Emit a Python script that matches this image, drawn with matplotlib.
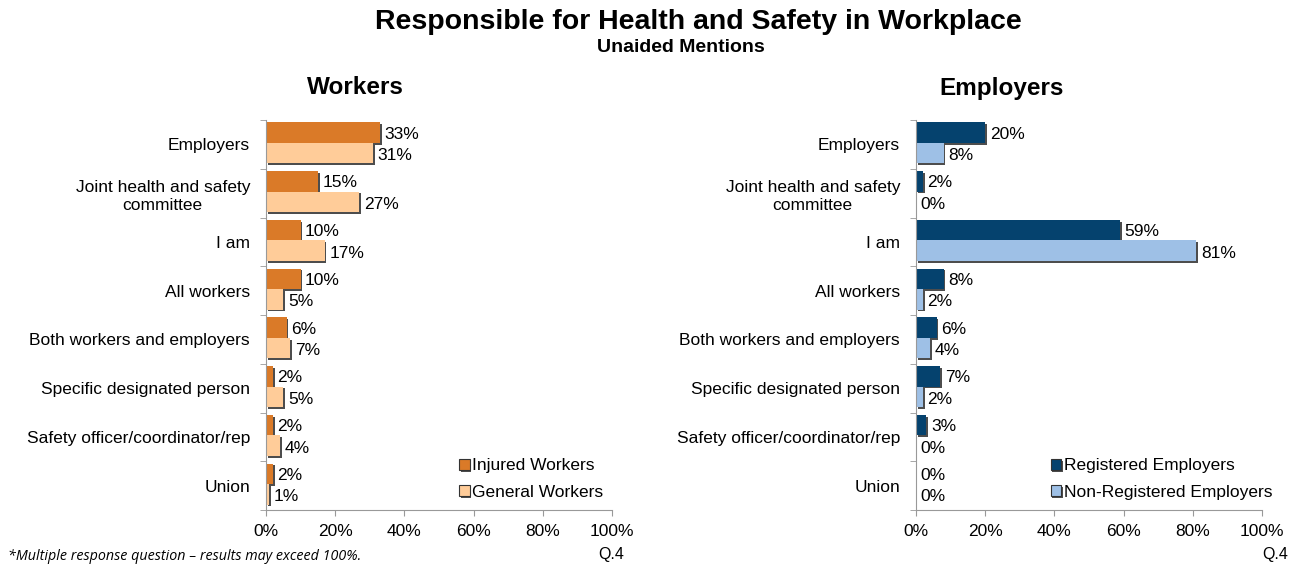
import numpy as np
import matplotlib.pyplot as plt
import matplotlib.patheffects as pe
from matplotlib.ticker import FuncFormatter

plt.rcParams['font.family'] = ['Liberation Sans', 'DejaVu Sans']

# ---- data --------------------------------------------------------------------
categories = [
    "Employers", "Joint health and safety\ncommittee", "I am", "All workers",
    "Both workers and employers", "Specific designated person",
    "Safety officer/coordinator/rep", "Union",
]
injured_workers = [33, 15, 10, 10, 6, 2, 2, 2]
general_workers = [31, 27, 17, 5, 7, 5, 4, 1]
registered_emp = [20, 2, 59, 8, 6, 7, 3, 0]
nonregistered_emp = [8, 0, 81, 2, 4, 2, 0, 0]

xticks = [0, 20, 40, 60, 80, 100]

W, H = 1297, 565
fig = plt.figure(figsize=(W / 100, H / 100), dpi=100)

shadow = [pe.SimplePatchShadow(offset=(1.2, -1.2), shadow_rgbFace='#3a3a3a', alpha=0.9),
          pe.Normal()]


def panel(left_px, top_vals, bot_vals, c_top, c_bot, names, legend_x):
    ax = fig.add_axes([left_px / W, 1 - 510 / H, 346 / W, 390 / H])
    y = np.arange(len(categories))
    h = 0.42
    b1 = ax.barh(y - 0.24, top_vals, height=h, color=c_top, label=names[0])
    b2 = ax.barh(y + 0.18, bot_vals, height=h, color=c_bot, label=names[1])
    for bars in (b1, b2):
        for p in bars:
            if p.get_width() > 0:
                p.set_path_effects(shadow)
    for yi, v in zip(y - 0.24, top_vals):
        ax.text(v + 1.3, yi + 0.03, f"{v}%", va='center', ha='left', fontsize=12.5)
    for yi, v in zip(y + 0.18, bot_vals):
        ax.text(v + 1.3, yi + 0.05, f"{v}%", va='center', ha='left', fontsize=12.5)
    ax.set_xlim(0, 100)
    ax.set_ylim(len(categories) - 0.5, -0.5)
    ax.set_yticks(y)
    ax.set_yticklabels(categories, fontsize=12.5, linespacing=1.3, multialignment='center')
    ax.tick_params(axis='y', length=0, pad=11.5)
    ax.set_yticks(np.arange(-0.5, len(categories), 1), minor=True)
    ax.tick_params(axis='y', which='minor', length=4, color='#999999')
    ax.set_xticks(xticks)
    ax.xaxis.set_major_formatter(FuncFormatter(lambda v, _: f"{v:.0f}%"))
    ax.tick_params(axis='x', length=4, color='#999999', labelsize=12.5, pad=6)
    for s in ('top', 'right'):
        ax.spines[s].set_visible(False)
    for s in ('left', 'bottom'):
        ax.spines[s].set_color('#999999')
    leg = ax.legend(loc='lower right', bbox_to_anchor=(legend_x, 0.004), frameon=False,
                    fontsize=12.5, handlelength=0.6, handleheight=0.6, handletextpad=0.15,
                    labelspacing=0.65, borderaxespad=0.1)
    for hnd in leg.legend_handles:
        hnd.set_edgecolor('#333333')
        hnd.set_linewidth(0.8)
    return ax


panel(266, injured_workers, general_workers, '#DA7A28', '#FFCC99',
      ["Injured Workers", "General Workers"], 1.0)
panel(916, registered_emp, nonregistered_emp, '#05426E', '#9EC0E6',
      ["Registered Employers", "Non-Registered Employers"], 1.055)

fig.text(698 / W, 1 - 22 / H, "Responsible for Health and Safety in Workplace",
         ha='center', va='center', fontsize=20.5, fontweight='bold')
fig.text(681 / W, 1 - 48 / H, "Unaided Mentions", ha='center', va='center',
         fontsize=14, fontweight='bold')
fig.text(355 / W, 1 - 88 / H, "Workers", ha='center', va='center',
         fontsize=17.5, fontweight='bold')
fig.text(1002 / W, 1 - 88 / H, "Employers", ha='center', va='center',
         fontsize=17.5, fontweight='bold')
fig.text(8 / W, 1 - 557 / H, "*Multiple response question – results may exceed 100%.",
         ha='left', va='center', fontsize=10.3, style='italic', family=['Open Sans', 'DejaVu Sans'])
fig.text(611 / W, 1 - 555 / H, "Q.4", ha='center', va='center', fontsize=11.5)
fig.text(1275 / W, 1 - 555 / H, "Q.4", ha='center', va='center', fontsize=11.5)

fig.savefig('out.png', dpi=100)
